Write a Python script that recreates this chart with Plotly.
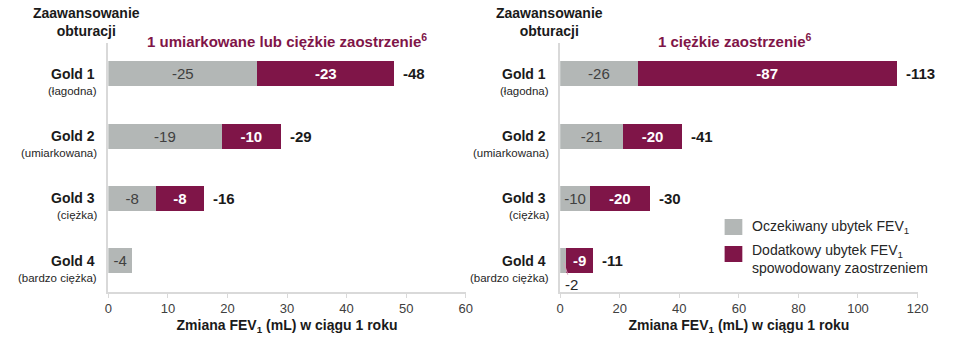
import plotly.graph_objects as go

# Stopień zaawansowania obturacji (GOLD)
categories = ["Gold 1", "Gold 2", "Gold 3", "Gold 4"]
severity = ["(łagodna)", "(umiarkowana)", "(ciężka)", "(bardzo ciężka)"]

# Ubytek FEV1 w mL w ciągu roku (wartości bezwzględne)
moderate_expected = [25, 19, 8, 4]
moderate_extra = [23, 10, 8, None]
severe_expected = [26, 21, 10, 2]
severe_extra = [87, 20, 20, 9]

left_ticks = [0, 10, 20, 30, 40, 50, 60]
right_ticks = [0, 20, 40, 60, 80, 100, 120]

GREY = "#B3B7B6"
MAROON = "#7F1548"
LINE = "#D9D9D9"
FONT = "Liberation Sans, Arial, sans-serif"

W, H = 964, 342


def px(x):
    return x / W


def py(y):
    return 1 - y / H


def totals(expected, extra):
    return [e + a if a is not None else None for e, a in zip(expected, extra)]


def neg(v):
    return "" if v is None else f"-{v}"


fig = go.Figure()

panels = [
    ("x", "y", moderate_expected, moderate_extra),
    ("x2", "y2", severe_expected, severe_extra),
]

for xa, ya, expected, extra in panels:
    exp_text = [neg(v) for v in expected]
    if xa == "x2":
        exp_text[3] = ""  # zbyt wąski słupek – etykieta pod spodem
    fig.add_trace(go.Bar(
        y=categories, x=expected, orientation="h", xaxis=xa, yaxis=ya,
        marker=dict(color=GREY, line=dict(width=0)), width=0.4,
        text=exp_text, textposition="inside", insidetextanchor="middle",
        constraintext="none",
        textfont=dict(family=FONT, size=15, color="#404040"),
        hoverinfo="skip", showlegend=False,
    ))
    fig.add_trace(go.Bar(
        y=categories, x=extra, orientation="h", xaxis=xa, yaxis=ya,
        marker=dict(color=MAROON, line=dict(width=0)), width=0.4,
        text=[f"<b>{neg(v)}</b>" for v in extra], textposition="inside",
        insidetextanchor="middle", constraintext="none",
        textfont=dict(family=FONT, size=15, color="white"),
        hoverinfo="skip", showlegend=False,
    ))

annotations = []

# sumy po prawej stronie słupków
for xa, ya, expected, extra in panels:
    for cat, tot in zip(categories, totals(expected, extra)):
        if tot is None:
            continue
        annotations.append(dict(
            xref=xa, yref=ya, x=tot, y=cat, text=f"<b>-{tot}</b>",
            showarrow=False, xanchor="left", yanchor="middle", xshift=7,
            font=dict(family=FONT, size=15, color="#1a1a1a"),
        ))

# etykieta najmniejszego słupka (Gold 4, ciężkie zaostrzenie)
annotations.append(dict(
    xref="x2", yref="y2", x=severe_expected[3] / 2, y=categories[3],
    text=neg(severe_expected[3]), showarrow=True, arrowhead=0, arrowwidth=1,
    arrowcolor="#D6A3B9", ax=8, ay=24, standoff=2,
    font=dict(family=FONT, size=15, color="#262626"),
))

# opisy kategorii
for ya, gx, sx in (("y", 94, 97), ("y2", 553, 556)):
    for cat, sev in zip(categories, severity):
        annotations.append(dict(
            xref="paper", yref=ya, x=px(gx), y=cat, text=f"<b>{cat}</b>",
            showarrow=False, xanchor="right", yanchor="middle",
            font=dict(family=FONT, size=14, color="#1a1a1a"),
        ))
        annotations.append(dict(
            xref="paper", yref=ya, x=px(sx), y=cat, text=sev, yshift=-17,
            showarrow=False, xanchor="right", yanchor="middle",
            font=dict(family=FONT, size=11.5, color="#262626"),
        ))

# nagłówki
for cx in (84, 554):
    annotations.append(dict(
        xref="paper", yref="paper", x=px(cx), y=py(22.5),
        text="<b>Zaawansowanie<br>obturacji</b>", showarrow=False,
        xanchor="center", yanchor="middle",
        font=dict(family=FONT, size=14, color="#1a1a1a"),
    ))

for cx, txt in ((287, "1 umiarkowane lub ciężkie zaostrzenie"), (743, "1 ciężkie zaostrzenie")):
    annotations.append(dict(
        xref="paper", yref="paper", x=px(cx), y=py(40),
        text=f"<b>{txt}<sup>6</sup></b>", showarrow=False,
        xanchor="center", yanchor="middle",
        font=dict(family=FONT, size=15, color=MAROON),
    ))

# legenda
shapes = []
legend_items = [
    (GREY, 219, 235, "Oczekiwany ubytek FEV<sub>1</sub>", 227),
    (MAROON, 246, 262, "Dodatkowy ubytek FEV<sub>1</sub><br>spowodowany zaostrzeniem", 259),
]
for color, y0, y1, txt, cy in legend_items:
    shapes.append(dict(
        type="rect", xref="paper", yref="paper",
        x0=px(732), x1=px(750), y0=py(y1), y1=py(y0),
        fillcolor=color, line=dict(width=0),
    ))
    annotations.append(dict(
        xref="paper", yref="paper", x=px(758), y=py(cy), text=txt,
        showarrow=False, xanchor="left", yanchor="middle", align="left",
        font=dict(family=FONT, size=14, color="#262626"),
    ))

axis_title = "<b>Zmiana FEV<sub>1</sub> (mL) w ciągu 1 roku</b>"
common_x = dict(
    showgrid=False, zeroline=False, showline=True, linecolor=LINE, linewidth=1.5,
    ticks="outside", ticklen=4, tickcolor=LINE, tickwidth=1,
    tickfont=dict(family=FONT, size=13, color="#404040"),
    title=dict(text=axis_title, font=dict(family=FONT, size=14, color="#1a1a1a"), standoff=5),
)
common_y = dict(
    showgrid=False, zeroline=False, showline=True, linecolor=LINE, linewidth=1.5,
    showticklabels=False, ticks="", range=[3.5, -0.5], type="category",
)

ydom = [py(292), py(42.5)]

fig.update_layout(
    width=W, height=H,
    margin=dict(l=0, r=0, t=0, b=0),
    paper_bgcolor="white", plot_bgcolor="white",
    barmode="stack", bargap=0.6,
    font=dict(family=FONT),
    xaxis=dict(domain=[px(106), px(469)], range=[0, 60], tickvals=left_ticks, anchor="y", **common_x),
    yaxis=dict(domain=ydom, anchor="x", **common_y),
    xaxis2=dict(domain=[px(565), px(928)], range=[0, 120], tickvals=right_ticks, anchor="y2", **common_x),
    yaxis2=dict(domain=ydom, anchor="x2", **common_y),
    annotations=annotations,
    shapes=shapes,
    showlegend=False,
)

fig.write_html("out.html")
